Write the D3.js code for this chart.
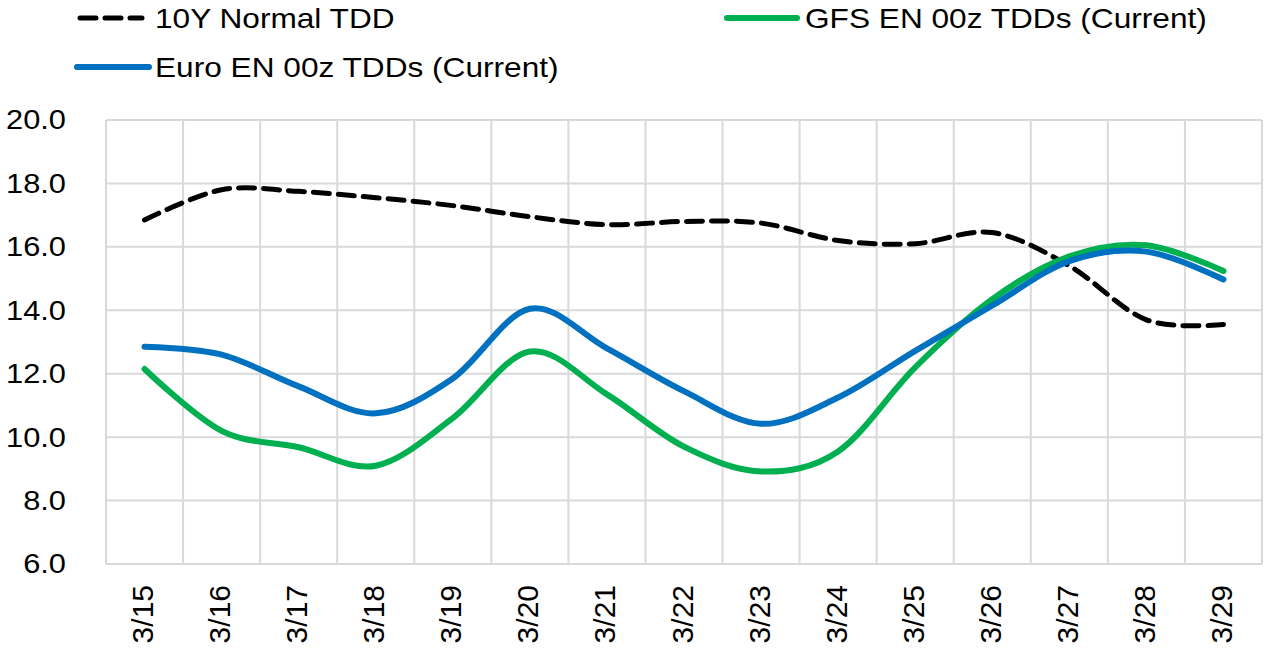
<!DOCTYPE html>
<html>
<head>
<meta charset="utf-8">
<script src="https://cdn.jsdelivr.net/npm/d3@7"></script>
<style>
  html, body { margin: 0; padding: 0; background: #fff; }
  svg { display: block; font-family: "Liberation Sans", Arial, sans-serif; }
</style>
</head>
<body>
<svg id="chart" width="1269" height="649"></svg>
<script>
const categories = ["3/15","3/16","3/17","3/18","3/19","3/20","3/21","3/22","3/23","3/24","3/25","3/26","3/27","3/28","3/29"];
const normalTDD = [16.85, 17.8, 17.75, 17.55, 17.3, 16.95, 16.7, 16.8, 16.75, 16.2, 16.1, 16.45, 15.4, 13.7, 13.55];
const gfsTDD    = [12.15, 10.2, 9.68, 9.1, 10.6, 12.7, 11.35, 9.7, 8.92, 9.55, 12.2, 14.35, 15.7, 16.05, 15.24];
const euroTDD   = [12.85, 12.6, 11.6, 10.75, 11.85, 14.05, 12.8, 11.45, 10.42, 11.25, 12.72, 14.15, 15.55, 15.85, 14.97];
const yTicks = [6, 8, 10, 12, 14, 16, 18, 20];

const svg = d3.select("#chart");
const pLeft = 106, pRight = 1262, pTop = 120, pBottom = 564;
const FONT = "Liberation Sans, Arial, sans-serif";

const x = d3.scaleBand().domain(categories).range([pLeft, pRight]).padding(0);
const y = d3.scaleLinear().domain([6, 20]).range([pBottom, pTop]);

// gridlines
const grid = svg.append("g");
grid.selectAll("line.h").data(yTicks).join("line")
  .attr("x1", pLeft).attr("x2", pRight)
  .attr("y1", d => y(d)).attr("y2", d => y(d))
  .attr("stroke", "#d9d9d9").attr("stroke-width", 2);
const vEdges = categories.map(c => x(c)).concat([pRight]);
grid.selectAll("line.v").data(vEdges).join("line")
  .attr("x1", d => d).attr("x2", d => d)
  .attr("y1", pTop).attr("y2", pBottom)
  .attr("stroke", "#d9d9d9").attr("stroke-width", 2);

// y axis labels
const yAxis = d3.axisLeft(y).tickValues(yTicks).tickFormat(d3.format(".1f")).tickSize(0).tickPadding(0);
const gy = svg.append("g").attr("transform", `translate(${pLeft - 40},0)`).call(yAxis);
gy.select(".domain").remove();
gy.selectAll("text").attr("font-size", 28).attr("fill", "#000").attr("font-family", FONT)
  .attr("transform", "scale(1.1,1)");

// x axis labels (rotated)
const xAxis = d3.axisBottom(x).tickSize(0).tickPadding(0);
const gx = svg.append("g").attr("transform", `translate(-2,${pBottom + 21})`).call(xAxis);
gx.select(".domain").remove();
gx.selectAll("text")
  .attr("font-size", 30).attr("fill", "#000").attr("font-family", FONT)
  .attr("transform", "rotate(-90)")
  .attr("text-anchor", "end")
  .attr("x", 0).attr("y", 0).attr("dy", "0.35em");

const line = d3.line()
  .x((d, i) => x(categories[i]) + x.bandwidth() / 2)
  .y(d => y(d))
  .curve(d3.curveCardinal.tension(0));

svg.append("path").datum(normalTDD).attr("d", line)
  .attr("fill", "none").attr("stroke", "#000").attr("stroke-width", 5)
  .attr("stroke-dasharray", "16,9").attr("stroke-linecap", "round");
svg.append("path").datum(gfsTDD).attr("d", line)
  .attr("fill", "none").attr("stroke", "#00b050").attr("stroke-width", 6)
  .attr("stroke-linecap", "round");
svg.append("path").datum(euroTDD).attr("d", line)
  .attr("fill", "none").attr("stroke", "#0070c0").attr("stroke-width", 6)
  .attr("stroke-linecap", "round");

// legend
const legend = [
  {name: "10Y Normal TDD", color: "#000", dash: "16,9", w: 5, x1: 80, x2: 142, tx: 155, ly: 18},
  {name: "GFS EN 00z TDDs (Current)", color: "#00b050", dash: null, w: 6, x1: 727, x2: 797, tx: 805, ly: 18},
  {name: "Euro EN 00z TDDs (Current)", color: "#0070c0", dash: null, w: 6, x1: 77, x2: 149, tx: 155, ly: 67}
];
const lg = svg.append("g");
legend.forEach(l => {
  lg.append("line").attr("x1", l.x1).attr("x2", l.x2).attr("y1", l.ly).attr("y2", l.ly)
    .attr("stroke", l.color).attr("stroke-width", l.w).attr("stroke-linecap", "round")
    .attr("stroke-dasharray", l.dash);
  lg.append("text").attr("transform", `translate(${l.tx},${l.ly}) scale(1.13,1)`)
    .attr("dy", "0.35em").attr("font-family", FONT)
    .attr("font-size", 28).attr("fill", "#000").text(l.name);
});
</script>
</body>
</html>
